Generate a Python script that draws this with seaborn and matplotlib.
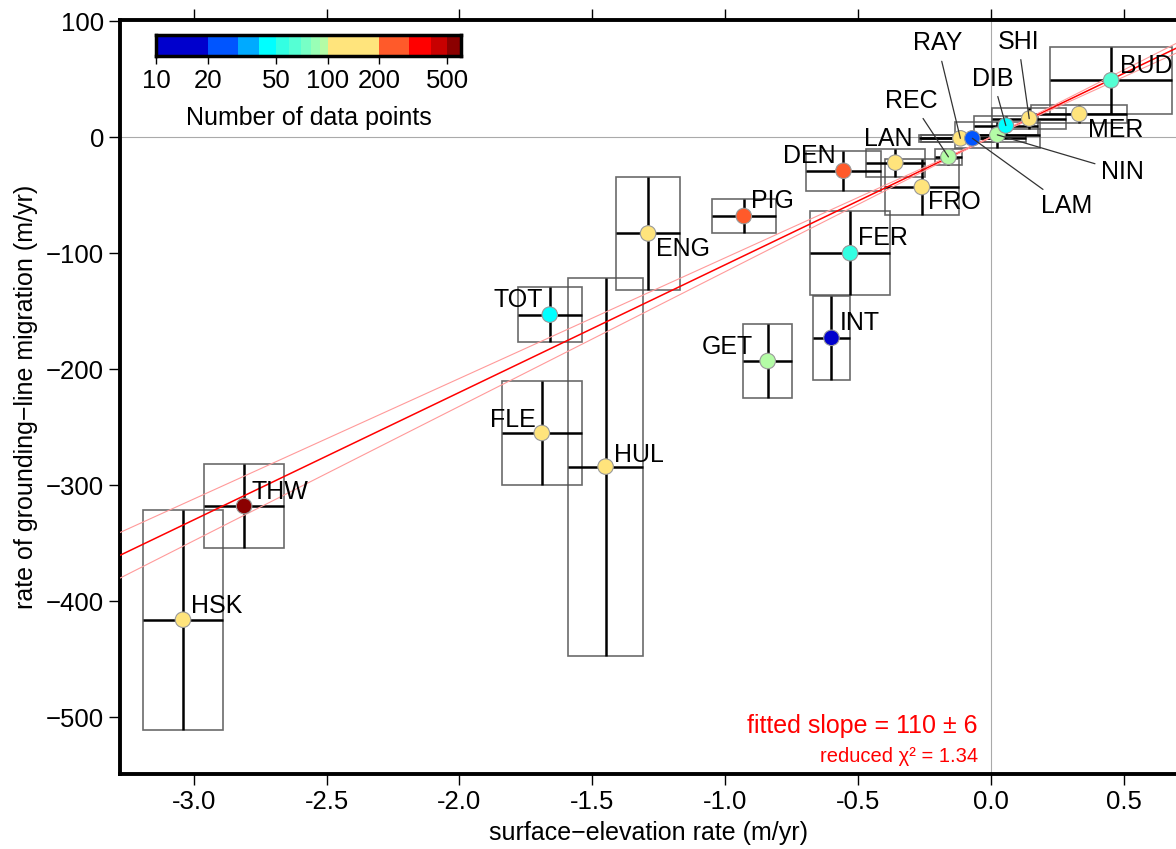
import numpy as np
import pandas as pd
import matplotlib
matplotlib.use('Agg')
import matplotlib.pyplot as plt
import seaborn as sns
from matplotlib.colors import ListedColormap, BoundaryNorm
from matplotlib.patches import Rectangle

# glacier basins: surface-elevation rate vs grounding-line migration rate
names = ['HSK', 'THW', 'FLE', 'HUL', 'TOT', 'ENG', 'PIG', 'GET', 'INT', 'FER', 'DEN',
         'LAN', 'FRO', 'REC', 'RAY', 'LAM', 'NIN', 'DIB', 'SHI', 'MER', 'BUD']
elev_rate = [-3.04, -2.81, -1.69, -1.45, -1.66, -1.29, -0.93, -0.84, -0.60, -0.53, -0.555,
             -0.36, -0.26, -0.16, -0.115, -0.07, 0.024, 0.056, 0.144, 0.332, 0.452]
elev_err = [0.15, 0.15, 0.15, 0.14, 0.12, 0.12, 0.12, 0.093, 0.07, 0.15, 0.14,
            0.11, 0.14, 0.05, 0.15, 0.2, 0.16, 0.12, 0.14, 0.18, 0.23]
gl_rate = [-416, -318, -255, -284, -153, -83, -68, -193, -173, -100, -29,
           -22, -43, -17, -1, -1, 2, 10, 16, 20, 49]
gl_err = [95, 36, 45, 163, 24, 49, 15, 32, 36, 36, 17,
          12, 24, 7, 3, 3, 11, 8, 9, 8, 29]
n_points = [150, 550, 150, 120, 45, 130, 250, 95, 15, 55, 250,
            150, 150, 95, 150, 25, 95, 45, 150, 150, 60]

# discrete colour scale of the colorbar
cbar_bounds = [10, 20, 30, 40, 50, 60, 70, 80, 90, 100, 200, 300, 400, 500, 600]
cbar_colors = ['#0000cd', '#0055ff', '#00aaff', '#00ffff', '#33ffe2', '#55ffd4',
               '#77ffc6', '#99ffb6', '#b4fca6', '#ffe47c', '#ff5a2a', '#ff0000',
               '#c80000', '#8b0000']
cbar_ticks = [10, 20, 50, 100, 200, 500]

fit_slope = 110
fit_slope_err = 6
reduced_chi2 = 1.34

# label placement (offset of text centre from the point, in pixels)
label_offsets = {
    'HSK': (34, 14), 'THW': (36, 14), 'FLE': (-29, 13), 'HUL': (33, 12),
    'TOT': (-32, 15), 'ENG': (35, -16), 'PIG': (29, 15), 'GET': (-40, 14),
    'INT': (28, 15), 'FER': (33, 15), 'DEN': (-34, 15), 'LAN': (-7, 24),
    'FRO': (33, -15), 'REC': (-37, 56), 'RAY': (-23, 95), 'LAM': (94, -68),
    'NIN': (125, -37), 'DIB': (-13, 47), 'SHI': (-11, 77), 'MER': (36, -16),
    'BUD': (35, 14),
}
leader_lines = ['REC', 'RAY', 'LAM', 'NIN', 'DIB', 'SHI']

df = pd.DataFrame({'name': names, 'x': elev_rate, 'xerr': elev_err,
                   'y': gl_rate, 'yerr': gl_err, 'n': n_points})

sns.set_theme(style='ticks')
plt.rcParams['font.family'] = ['Liberation Sans', 'DejaVu Sans']
plt.rcParams['axes.unicode_minus'] = True
for key in ['text.color', 'axes.labelcolor', 'xtick.color', 'ytick.color',
            'xtick.labelcolor', 'ytick.labelcolor']:
    plt.rcParams[key] = 'black'

cmap = ListedColormap(cbar_colors)
norm = BoundaryNorm(cbar_bounds, cmap.N)

fig = plt.figure(figsize=(11.76, 8.49), dpi=100)
ax = fig.add_axes([120 / 1176, 1 - 774 / 849, (1177 - 120) / 1176, (774 - 20) / 849])

# zero reference lines
ax.axhline(0, color='#aaaaaa', lw=0.8, zorder=1)
ax.axvline(0, color='#aaaaaa', lw=0.8, zorder=1)

# error boxes and crosshair error bars
for _, r in df.iterrows():
    ax.add_patch(Rectangle((r.x - r.xerr, r.y - r.yerr), 2 * r.xerr, 2 * r.yerr,
                           fill=False, edgecolor='#505050', lw=1.2, alpha=0.85, zorder=2))
ax.errorbar(df.x, df.y, xerr=df.xerr, yerr=df.yerr, fmt='none', ecolor='black',
            elinewidth=1.8, capsize=0, zorder=3)

# fitted line with slope uncertainty
ax.axline((0, 0), slope=fit_slope, color='red', lw=1.1, zorder=4)
ax.axline((0, 0), slope=fit_slope - fit_slope_err, color='#ff9a9a', lw=0.8, zorder=4)
ax.axline((0, 0), slope=fit_slope + fit_slope_err, color='#ff9a9a', lw=0.8, zorder=4)

sns.scatterplot(data=df, x='x', y='y', hue='n', palette=cmap, hue_norm=norm, s=125,
                edgecolor='#999999', linewidth=0.8, legend=False, ax=ax, zorder=6)

# labels
for _, r in df.iterrows():
    dx, dy = label_offsets[r['name']]
    if r['name'] in leader_lines:
        ax.annotate(r['name'], (r.x, r.y), xytext=(dx, dy), textcoords='offset pixels',
                    ha='center', va='center', fontsize=18, zorder=7,
                    arrowprops=dict(arrowstyle='-', color='#333333', lw=0.9,
                                    shrinkA=2, shrinkB=0))
    else:
        ax.annotate(r['name'], (r.x, r.y), xytext=(dx, dy), textcoords='offset pixels',
                    ha='center', va='center', fontsize=18, zorder=7)

ax.text(0.8117, 0.054, 'fitted slope = %d \u00b1 %d' % (fit_slope, fit_slope_err),
        transform=ax.transAxes, color='red', fontsize=18, ha='right', va='baseline')
ax.text(0.8117, 0.016, 'reduced \u03c7\u00b2 = %.2f' % reduced_chi2,
        transform=ax.transAxes, color='red', fontsize=14.5, ha='right', va='baseline')

ax.set_xlim(-3.277, 0.7)
ax.set_ylim(-549, 101)
ax.set_xticks([-3.0, -2.5, -2.0, -1.5, -1.0, -0.5, 0.0, 0.5])
ax.set_yticks([100, 0, -100, -200, -300, -400, -500])
ax.xaxis.set_major_formatter(matplotlib.ticker.FormatStrFormatter('%.1f'))
ax.tick_params(axis='both', direction='out', length=8, width=1, labelsize=18.5,
               top=True, right=False, labeltop=False)
for side in ['left', 'bottom', 'top']:
    ax.spines[side].set_linewidth(2.8)
    ax.spines[side].set_color('black')
ax.spines['right'].set_visible(False)
ax.set_xlabel('surface\u2212elevation rate (m/yr)', fontsize=18, labelpad=5)
ax.set_ylabel('rate of grounding\u2212line migration (m/yr)', fontsize=18, labelpad=6)

# colorbar drawn inside the plot area
cax = fig.add_axes([156 / 1176, 1 - 56 / 849, (461 - 156) / 1176, 21 / 849])
cax.set_xscale('log')
cax.pcolormesh(cbar_bounds, [0, 1], np.array([cbar_bounds[:-1]]), cmap=cmap, norm=norm)
cax.set_xlim(cbar_bounds[0], cbar_bounds[-1])
cax.set_ylim(0, 1)
cax.set_yticks([])
cax.set_xticks(cbar_ticks)
cax.set_xticklabels([str(t) for t in cbar_ticks])
cax.xaxis.set_minor_locator(matplotlib.ticker.NullLocator())
cax.tick_params(axis='x', direction='out', length=6, width=1, labelsize=18.5, pad=3)
for s in cax.spines.values():
    s.set_linewidth(2.5)
    s.set_color('black')
cax.set_xlabel('Number of data points', fontsize=18, labelpad=10)

fig.savefig('out.png', dpi=100)
